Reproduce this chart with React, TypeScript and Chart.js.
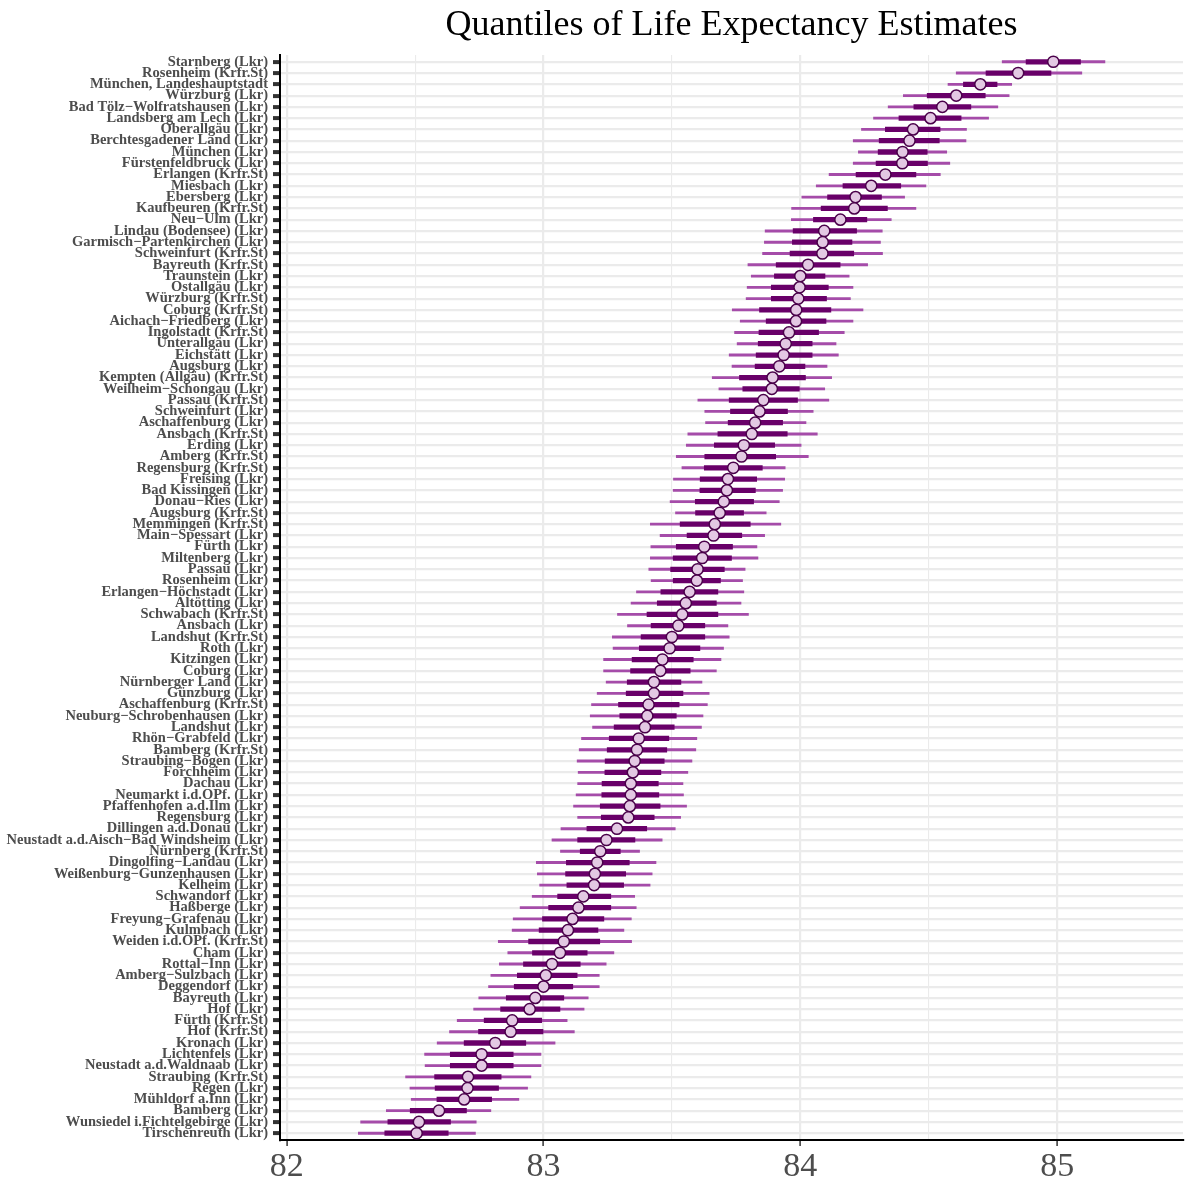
import { useEffect, useRef } from 'react';
import { Chart, registerables } from 'chart.js';

Chart.register(...registerables);

// Districts of Bavaria, ordered by median life expectancy (top = highest)
const districts = [
  'Starnberg (Lkr)',
  'Rosenheim (Krfr.St)',
  'München, Landeshauptstadt',
  'Würzburg (Lkr)',
  'Bad Tölz−Wolfratshausen (Lkr)',
  'Landsberg am Lech (Lkr)',
  'Oberallgäu (Lkr)',
  'Berchtesgadener Land (Lkr)',
  'München (Lkr)',
  'Fürstenfeldbruck (Lkr)',
  'Erlangen (Krfr.St)',
  'Miesbach (Lkr)',
  'Ebersberg (Lkr)',
  'Kaufbeuren (Krfr.St)',
  'Neu−Ulm (Lkr)',
  'Lindau (Bodensee) (Lkr)',
  'Garmisch−Partenkirchen (Lkr)',
  'Schweinfurt (Krfr.St)',
  'Bayreuth (Krfr.St)',
  'Traunstein (Lkr)',
  'Ostallgäu (Lkr)',
  'Würzburg (Krfr.St)',
  'Coburg (Krfr.St)',
  'Aichach−Friedberg (Lkr)',
  'Ingolstadt (Krfr.St)',
  'Unterallgäu (Lkr)',
  'Eichstätt (Lkr)',
  'Augsburg (Lkr)',
  'Kempten (Allgäu) (Krfr.St)',
  'Weilheim−Schongau (Lkr)',
  'Passau (Krfr.St)',
  'Schweinfurt (Lkr)',
  'Aschaffenburg (Lkr)',
  'Ansbach (Krfr.St)',
  'Erding (Lkr)',
  'Amberg (Krfr.St)',
  'Regensburg (Krfr.St)',
  'Freising (Lkr)',
  'Bad Kissingen (Lkr)',
  'Donau−Ries (Lkr)',
  'Augsburg (Krfr.St)',
  'Memmingen (Krfr.St)',
  'Main−Spessart (Lkr)',
  'Fürth (Lkr)',
  'Miltenberg (Lkr)',
  'Passau (Lkr)',
  'Rosenheim (Lkr)',
  'Erlangen−Höchstadt (Lkr)',
  'Altötting (Lkr)',
  'Schwabach (Krfr.St)',
  'Ansbach (Lkr)',
  'Landshut (Krfr.St)',
  'Roth (Lkr)',
  'Kitzingen (Lkr)',
  'Coburg (Lkr)',
  'Nürnberger Land (Lkr)',
  'Günzburg (Lkr)',
  'Aschaffenburg (Krfr.St)',
  'Neuburg−Schrobenhausen (Lkr)',
  'Landshut (Lkr)',
  'Rhön−Grabfeld (Lkr)',
  'Bamberg (Krfr.St)',
  'Straubing−Bogen (Lkr)',
  'Forchheim (Lkr)',
  'Dachau (Lkr)',
  'Neumarkt i.d.OPf. (Lkr)',
  'Pfaffenhofen a.d.Ilm (Lkr)',
  'Regensburg (Lkr)',
  'Dillingen a.d.Donau (Lkr)',
  'Neustadt a.d.Aisch−Bad Windsheim (Lkr)',
  'Nürnberg (Krfr.St)',
  'Dingolfing−Landau (Lkr)',
  'Weißenburg−Gunzenhausen (Lkr)',
  'Kelheim (Lkr)',
  'Schwandorf (Lkr)',
  'Haßberge (Lkr)',
  'Freyung−Grafenau (Lkr)',
  'Kulmbach (Lkr)',
  'Weiden i.d.OPf. (Krfr.St)',
  'Cham (Lkr)',
  'Rottal−Inn (Lkr)',
  'Amberg−Sulzbach (Lkr)',
  'Deggendorf (Lkr)',
  'Bayreuth (Lkr)',
  'Hof (Lkr)',
  'Fürth (Krfr.St)',
  'Hof (Krfr.St)',
  'Kronach (Lkr)',
  'Lichtenfels (Lkr)',
  'Neustadt a.d.Waldnaab (Lkr)',
  'Straubing (Krfr.St)',
  'Regen (Lkr)',
  'Mühldorf a.Inn (Lkr)',
  'Bamberg (Lkr)',
  'Wunsiedel i.Fichtelgebirge (Lkr)',
  'Tirschenreuth (Lkr)',
];

// Median estimate
const median = [
  84.985, 84.848, 84.701, 84.607, 84.553, 84.507, 84.439, 84.425, 84.398, 84.397,
  84.331, 84.276, 84.215, 84.210, 84.156, 84.093, 84.087, 84.086, 84.030, 84.000,
  83.997, 83.992, 83.984, 83.983, 83.956, 83.943, 83.935, 83.918, 83.892, 83.889,
  83.856, 83.841, 83.824, 83.811, 83.780, 83.771, 83.739, 83.718, 83.714, 83.702,
  83.686, 83.667, 83.662, 83.626, 83.618, 83.600, 83.597, 83.569, 83.554, 83.540,
  83.525, 83.500, 83.491, 83.463, 83.455, 83.430, 83.430, 83.409, 83.404, 83.395,
  83.371, 83.364, 83.355, 83.348, 83.340, 83.340, 83.336, 83.330, 83.286, 83.245,
  83.221, 83.209, 83.200, 83.197, 83.155, 83.136, 83.113, 83.095, 83.079, 83.064,
  83.033, 83.009, 83.000, 82.968, 82.946, 82.878, 82.872, 82.812, 82.759, 82.759,
  82.706, 82.704, 82.691, 82.593, 82.515, 82.506,
];

// Inner interval (thick segment)
const innerLow = [
  84.879, 84.723, 84.635, 84.494, 84.442, 84.384, 84.331, 84.307, 84.303, 84.295,
  84.217, 84.166, 84.106, 84.081, 84.051, 83.972, 83.969, 83.960, 83.906, 83.899,
  83.887, 83.887, 83.841, 83.867, 83.839, 83.836, 83.828, 83.824, 83.763, 83.776,
  83.723, 83.728, 83.719, 83.679, 83.665, 83.628, 83.626, 83.610, 83.609, 83.591,
  83.592, 83.532, 83.559, 83.517, 83.505, 83.495, 83.505, 83.457, 83.443, 83.403,
  83.419, 83.380, 83.373, 83.345, 83.339, 83.326, 83.322, 83.292, 83.297, 83.275,
  83.256, 83.248, 83.240, 83.239, 83.228, 83.227, 83.221, 83.225, 83.169, 83.133,
  83.143, 83.089, 83.086, 83.091, 83.055, 83.020, 82.996, 82.983, 82.942, 82.957,
  82.922, 82.898, 82.886, 82.855, 82.833, 82.769, 82.747, 82.691, 82.637, 82.637,
  82.576, 82.578, 82.585, 82.481, 82.394, 82.382,
];

const innerHigh = [
  85.091, 84.976, 84.766, 84.720, 84.664, 84.626, 84.544, 84.541, 84.494, 84.495,
  84.450, 84.391, 84.316, 84.339, 84.259, 84.219, 84.201, 84.208, 84.155, 84.096,
  84.109, 84.102, 84.119, 84.100, 84.071, 84.046, 84.046, 84.018, 84.020, 83.996,
  83.989, 83.950, 83.931, 83.949, 83.900, 83.904, 83.852, 83.830, 83.825, 83.818,
  83.779, 83.805, 83.772, 83.736, 83.732, 83.704, 83.689, 83.679, 83.673, 83.679,
  83.628, 83.628, 83.609, 83.583, 83.571, 83.535, 83.543, 83.528, 83.517, 83.509,
  83.488, 83.480, 83.470, 83.457, 83.447, 83.449, 83.454, 83.431, 83.402, 83.356,
  83.299, 83.334, 83.320, 83.312, 83.262, 83.262, 83.235, 83.212, 83.219, 83.170,
  83.143, 83.131, 83.114, 83.079, 83.064, 82.993, 82.998, 82.931, 82.882, 82.882,
  82.835, 82.825, 82.798, 82.700, 82.638, 82.629,
];

// Outer interval (thin segment)
const outerLow = [
  84.786, 84.607, 84.575, 84.401, 84.342, 84.285, 84.238, 84.206, 84.226, 84.206,
  84.112, 84.062, 84.006, 83.966, 83.965, 83.863, 83.860, 83.853, 83.796, 83.809,
  83.793, 83.789, 83.735, 83.766, 83.744, 83.754, 83.723, 83.734, 83.657, 83.683,
  83.601, 83.628, 83.631, 83.562, 83.556, 83.517, 83.539, 83.506, 83.505, 83.493,
  83.514, 83.416, 83.454, 83.418, 83.416, 83.410, 83.419, 83.362, 83.341, 83.288,
  83.327, 83.268, 83.271, 83.234, 83.234, 83.244, 83.209, 83.187, 83.182, 83.191,
  83.148, 83.139, 83.131, 83.135, 83.133, 83.127, 83.117, 83.133, 83.068, 83.033,
  83.066, 82.972, 82.976, 82.985, 82.956, 82.909, 82.882, 82.878, 82.824, 82.861,
  82.828, 82.795, 82.786, 82.748, 82.728, 82.664, 82.634, 82.586, 82.537, 82.539,
  82.463, 82.480, 82.485, 82.388, 82.288, 82.279,
];

const outerHigh = [
  85.186, 85.096, 84.823, 84.813, 84.769, 84.733, 84.647, 84.645, 84.570, 84.582,
  84.545, 84.489, 84.406, 84.450, 84.354, 84.319, 84.312, 84.320, 84.262, 84.190,
  84.205, 84.195, 84.244, 84.205, 84.171, 84.139, 84.148, 84.104, 84.122, 84.095,
  84.111, 84.050, 84.022, 84.066, 84.003, 84.031, 83.941, 83.939, 83.931, 83.918,
  83.867, 83.924, 83.861, 83.831, 83.835, 83.785, 83.775, 83.780, 83.769, 83.798,
  83.718, 83.723, 83.701, 83.691, 83.673, 83.617, 83.645, 83.638, 83.621, 83.615,
  83.597, 83.593, 83.578, 83.562, 83.543, 83.545, 83.557, 83.534, 83.513, 83.462,
  83.374, 83.438, 83.423, 83.415, 83.355, 83.361, 83.342, 83.313, 83.343, 83.274,
  83.244, 83.217, 83.217, 83.174, 83.158, 83.092, 83.120, 83.045, 82.990, 82.990,
  82.951, 82.938, 82.904, 82.795, 82.738, 82.735,
];

// Value-axis ticks: labelled majors plus unlabelled minor gridlines
const xTicks = [82, 82.5, 83, 83.5, 84, 84.5, 85];

const TITLE = 'Quantiles of Life Expectancy Estimates';
const SERIF = "'Liberation Serif', 'Times New Roman', serif";
const THIN_COLOR = '#a54ca9';
const THICK_COLOR = '#690069';
const POINT_FILL = '#e3c8e3';
const POINT_EDGE = '#4a004a';
const GRID = '#ebebeb';

export default function App() {
  const canvasRef = useRef<HTMLCanvasElement | null>(null);

  useEffect(() => {
    document.body.style.margin = '0';
    const canvas = canvasRef.current;
    if (!canvas) return;

    const rows = districts.map((_, i) => i + 1);
    const isMajor = (v: number) => Math.abs(v - Math.round(v)) < 1e-9;

    const chart = new Chart(canvas, {
      type: 'bar',
      data: {
        datasets: [
          {
            type: 'bar',
            label: 'outer',
            data: rows.map((r, i) => ({ x: [outerLow[i], outerHigh[i]], y: r })) as any,
            backgroundColor: THIN_COLOR,
            borderWidth: 0,
            barThickness: 2.2,
            grouped: false,
            order: 3,
          },
          {
            type: 'bar',
            label: 'inner',
            data: rows.map((r, i) => ({ x: [innerLow[i], innerHigh[i]], y: r })) as any,
            backgroundColor: THICK_COLOR,
            borderWidth: 0,
            barThickness: 4.6,
            grouped: false,
            order: 2,
          },
          {
            type: 'scatter',
            label: 'median',
            data: rows.map((r, i) => ({ x: median[i], y: r })),
            backgroundColor: POINT_FILL,
            borderColor: POINT_EDGE,
            pointRadius: 5.6,
            pointBorderWidth: 1.5,
            pointHoverRadius: 5.6,
            order: 1,
          } as any,
        ],
      },
      options: {
        indexAxis: 'y',
        animation: false,
        responsive: false,
        maintainAspectRatio: false,
        events: [],
        layout: { padding: { left: 0, right: 9, top: 0, bottom: 0 } },
        plugins: {
          legend: { display: false },
          tooltip: { enabled: false },
          title: {
            display: true,
            text: TITLE,
            color: '#000000',
            fullSize: false,
            font: { family: SERIF, size: 36, weight: 'normal', lineHeight: 1.2 },
            padding: { top: 4, bottom: 7.8 },
          },
        },
        scales: {
          x: {
            type: 'linear',
            position: 'bottom',
            min: 81.974,
            max: 85.49,
            offset: false,
            afterBuildTicks: (scale: any) => {
              scale.ticks = xTicks.map((v) => ({ value: v }));
            },
            afterFit: (scale: any) => {
              scale.height = 45;
            },
            ticks: {
              autoSkip: false,
              maxRotation: 0,
              padding: 4,
              color: '#4d4d4d',
              font: { family: SERIF, size: 34, lineHeight: 1 },
              callback: (v: any) => (isMajor(Number(v)) ? String(v) : ''),
            },
            grid: {
              offset: false,
              color: GRID,
              lineWidth: (ctx: any) => (ctx.tick && isMajor(ctx.tick.value) ? 2.2 : 1.1),
              drawTicks: true,
              tickLength: 6,
              tickWidth: 1.5,
              tickColor: (ctx: any) =>
                ctx.tick && isMajor(ctx.tick.value) ? '#333333' : 'rgba(0,0,0,0)',
            },
            border: { display: true, color: '#000000', width: 2 },
          },
          y: {
            type: 'linear',
            position: 'left',
            reverse: true,
            min: 0.4,
            max: 96.6,
            offset: false,
            afterBuildTicks: (scale: any) => {
              scale.ticks = rows.map((v) => ({ value: v }));
            },
            afterFit: (scale: any) => {
              scale.width = 280;
              scale.paddingTop = 0;
              scale.paddingBottom = 0;
            },
            ticks: {
              autoSkip: false,
              padding: 5,
              color: '#4d4d4d',
              font: { family: SERIF, size: 14.5, weight: 'bold', lineHeight: 1 },
              callback: (v: any) => districts[Math.round(Number(v)) - 1] ?? '',
            },
            grid: {
              offset: false,
              color: GRID,
              lineWidth: 2.2,
              drawTicks: true,
              tickLength: 7,
              tickWidth: 4,
              tickColor: '#333333',
            },
            border: { display: true, color: '#000000', width: 2 },
          },
        },
      },
    });

    return () => chart.destroy();
  }, []);

  return (
    <canvas
      ref={canvasRef}
      width={1192}
      height={1185}
      style={{ display: 'block', width: 1192, height: 1185 }}
    />
  );
}
